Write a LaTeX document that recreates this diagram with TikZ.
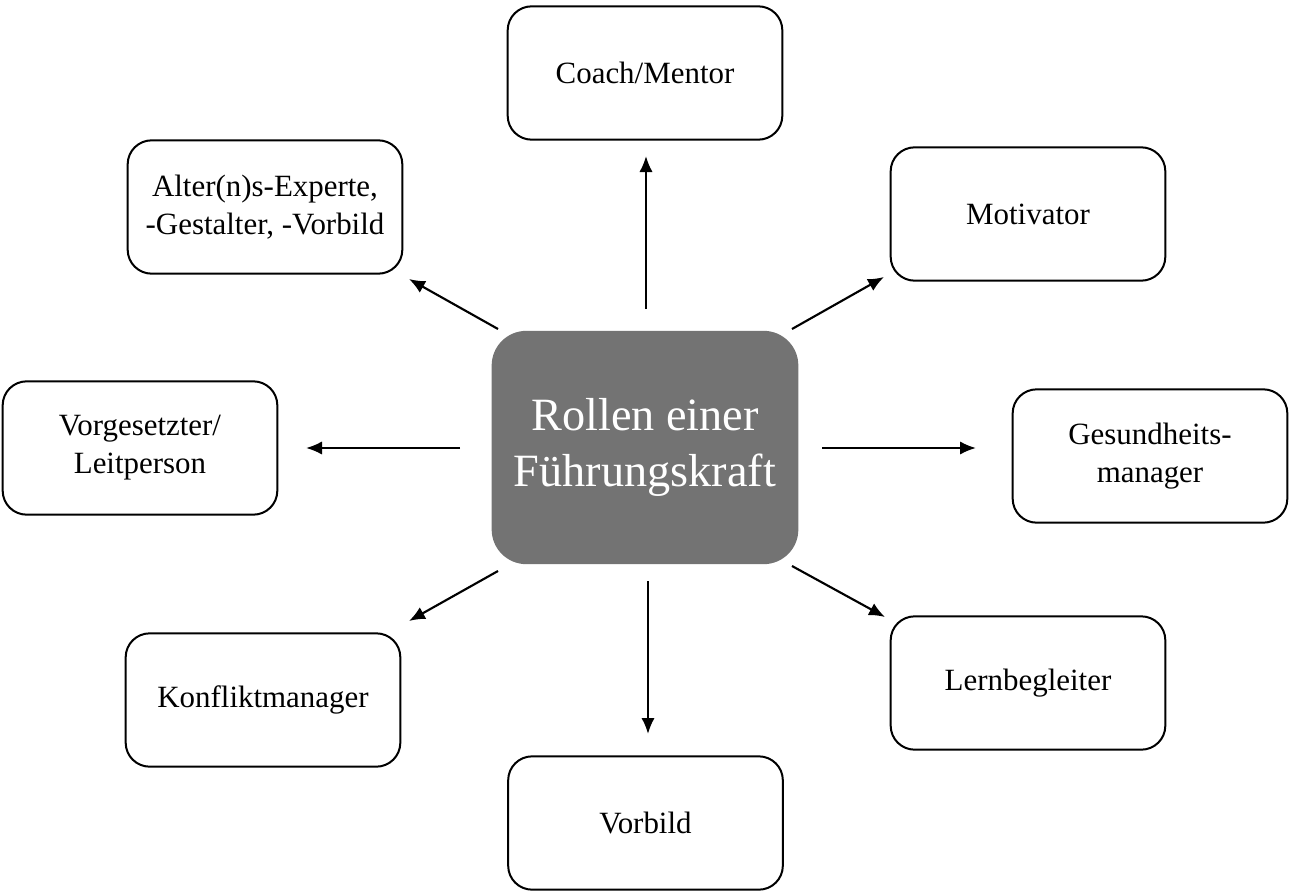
\documentclass[tikz,border=0pt]{standalone}
\usepackage{fontspec}
\setmainfont{Liberation Serif}
\usetikzlibrary{arrows.meta}
\definecolor{centergray}{HTML}{737373}
\begin{document}
\begin{tikzpicture}[x=0.75pt,y=-0.75pt,
  rolebox/.style={draw=black,line width=1.5pt,rounded corners=18pt,minimum width=206pt,minimum height=100pt,align=center,font=\fontsize{23.2}{28.5}\selectfont,inner sep=0pt},
  centerbox/.style={fill=centergray,draw=none,rounded corners=26pt,minimum width=230pt,minimum height=175pt,align=center,text=white,font=\fontsize{34.7}{41.5}\selectfont,inner sep=0pt},
  arr/.style={line width=1.6pt,-{Latex[length=12pt,width=10pt]}}]
\useasboundingbox (0,0) rectangle (1292,892);
\node[centerbox] (c) at (645,447.5) {Rollen einer\\Führungskraft};
\node[rolebox] (coach) at (645,73) {Coach/Mentor};
\node[rolebox] (alter) at (265,207) {Alter(n)s-Experte,\\-Gestalter, -Vorbild};
\node[rolebox] (moti) at (1028,214) {Motivator};
\node[rolebox] (vorg) at (140,448) {Vorgesetzter/\\Leitperson};
\node[rolebox] (ges) at (1150,456) {Gesundheits-\\manager};
\node[rolebox] (konf) at (263,700) {Konfliktmanager};
\node[rolebox] (lern) at (1028,683) {Lernbegleiter};
\node[rolebox] (vorb) at (645.5,823) {Vorbild};
% arrow end points
\coordinate (aU0) at (646,309); \coordinate (aU1) at (646,156);
\coordinate (aUL0) at (498,329); \coordinate (aUL1) at (409,279);
\coordinate (aUR0) at (792,329); \coordinate (aUR1) at (884,277);
\coordinate (aL0) at (460,448); \coordinate (aL1) at (306,448);
\coordinate (aR0) at (822,448); \coordinate (aR1) at (976,448);
\coordinate (aDL0) at (498,571); \coordinate (aDL1) at (409,621);
\coordinate (aD0) at (648,581); \coordinate (aD1) at (648,734);
\coordinate (aDR0) at (792,566); \coordinate (aDR1) at (885,617);
\draw[arr] (aU0) -- (aU1);
\draw[arr] (aUL0) -- (aUL1);
\draw[arr] (aUR0) -- (aUR1);
\draw[arr] (aL0) -- (aL1);
\draw[arr] (aR0) -- (aR1);
\draw[arr] (aDL0) -- (aDL1);
\draw[arr] (aD0) -- (aD1);
\draw[arr] (aDR0) -- (aDR1);
\end{tikzpicture}
\end{document}
